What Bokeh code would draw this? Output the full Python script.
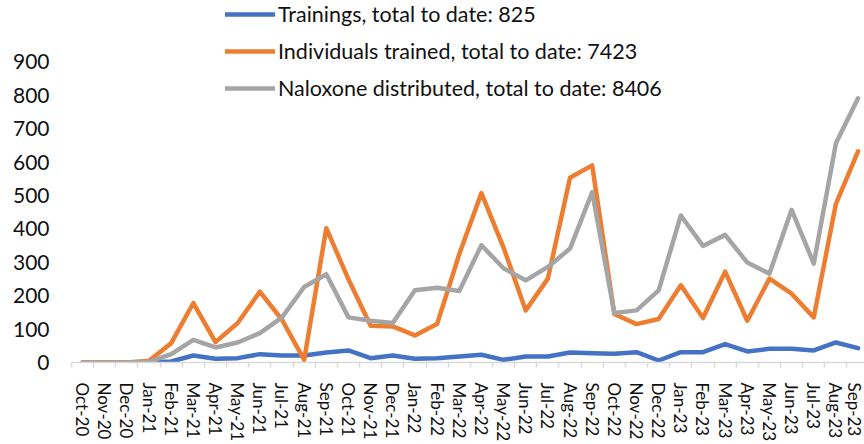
from bokeh.plotting import figure
from bokeh.models import Range1d, FixedTicker, Legend, LegendItem, ColumnDataSource
from bokeh.embed import file_html
from bokeh.resources import INLINE

months = ["Oct-20", "Nov-20", "Dec-20", "Jan-21", "Feb-21", "Mar-21", "Apr-21", "May-21",
          "Jun-21", "Jul-21", "Aug-21", "Sep-21", "Oct-21", "Nov-21", "Dec-21", "Jan-22",
          "Feb-22", "Mar-22", "Apr-22", "May-22", "Jun-22", "Jul-22", "Aug-22", "Sep-22",
          "Oct-22", "Nov-22", "Dec-22", "Jan-23", "Feb-23", "Mar-23", "Apr-23", "May-23",
          "Jun-23", "Jul-23", "Aug-23", "Sep-23"]

trainings = [0, 0, 0, 1, 3, 21, 11, 13, 25, 21, 21, 30, 36, 13, 21, 11, 13, 18, 23, 8,
             18, 18, 30, 28, 26, 31, 6, 31, 31, 55, 33, 41, 41, 36, 60, 43]
individuals = [0, 0, 0, 5, 58, 178, 61, 118, 212, 128, 8, 402, 249, 110, 108, 81, 115, 324,
               507, 344, 156, 251, 553, 590, 145, 115, 130, 231, 133, 272, 125, 251, 206, 135,
               475, 632]
naloxone = [0, 0, 0, 2, 25, 68, 45, 60, 88, 135, 226, 264, 135, 125, 118, 216, 224, 214,
            351, 282, 246, 286, 341, 510, 148, 156, 216, 440, 349, 382, 299, 266, 457, 296,
            656, 791]

series_names = ["Trainings, total to date: 825",
                "Individuals trained, total to date: 7423",
                "Naloxone distributed, total to date: 8406"]
colors = ["#4472C4", "#ED7D31", "#A5A5A5"]
y_ticks = [0, 100, 200, 300, 400, 500, 600, 700, 800, 900]

FONT = "Lato"
x = list(range(len(months)))
src = ColumnDataSource(dict(x=x, t=trainings, i=individuals, n=naloxone))

p = figure(frame_width=793, frame_height=362, output_backend="svg", toolbar_location=None,
           x_range=Range1d(-0.5, 35.29), y_range=Range1d(0, 1083.5),
           min_border_left=71, min_border_right=0, min_border_top=0, min_border_bottom=0)
p.outline_line_color = None
p.grid.visible = False
p.background_fill_color = "white"
p.border_fill_color = "white"

renderers = []
for col, c in zip(["t", "i", "n"], colors):
    r = p.line("x", col, source=src, line_color=c, line_width=4.5,
               line_join="round", line_cap="round")
    renderers.append(r)

# y axis
p.yaxis.ticker = FixedTicker(ticks=y_ticks)
p.yaxis.axis_line_color = None
p.yaxis.major_tick_line_color = None
p.yaxis.minor_tick_line_color = None
p.yaxis.major_label_text_font = FONT
p.yaxis.major_label_text_font_size = "21px"
p.yaxis.major_label_text_color = "#111111"
p.yaxis.major_label_standoff = 16

# x axis
xa = p.xaxis[0]
xa.ticker = FixedTicker(ticks=x, minor_ticks=[i - 0.5 for i in range(len(months) + 1)])
xa.major_label_overrides = {i: m for i, m in enumerate(months)}
xa.major_label_orientation = "vertical"
xa.major_label_text_font = FONT
xa.major_label_text_font_size = "17px"
xa.major_label_text_color = "#111111"
xa.major_label_standoff = 15
xa.axis_line_color = "#D9D9D9"
xa.axis_line_width = 1.5
xa.major_tick_line_color = None
xa.major_tick_out = 0
xa.major_tick_in = 0
xa.minor_tick_line_color = "#D9D9D9"
xa.minor_tick_line_width = 1.5
xa.minor_tick_out = 5
xa.minor_tick_in = 0

legend = Legend(items=[LegendItem(label=n, renderers=[r]) for n, r in zip(series_names, renderers)],
                location=(154, 261), orientation="vertical",
                glyph_width=50, glyph_height=24, label_height=24, label_standoff=3,
                spacing=11, padding=0, margin=0,
                label_text_font=FONT, label_text_font_size="21.5px", label_text_color="#111111",
                border_line_color=None, background_fill_alpha=0)
p.add_layout(legend)

open("out.html", "w").write(file_html(p, INLINE))
